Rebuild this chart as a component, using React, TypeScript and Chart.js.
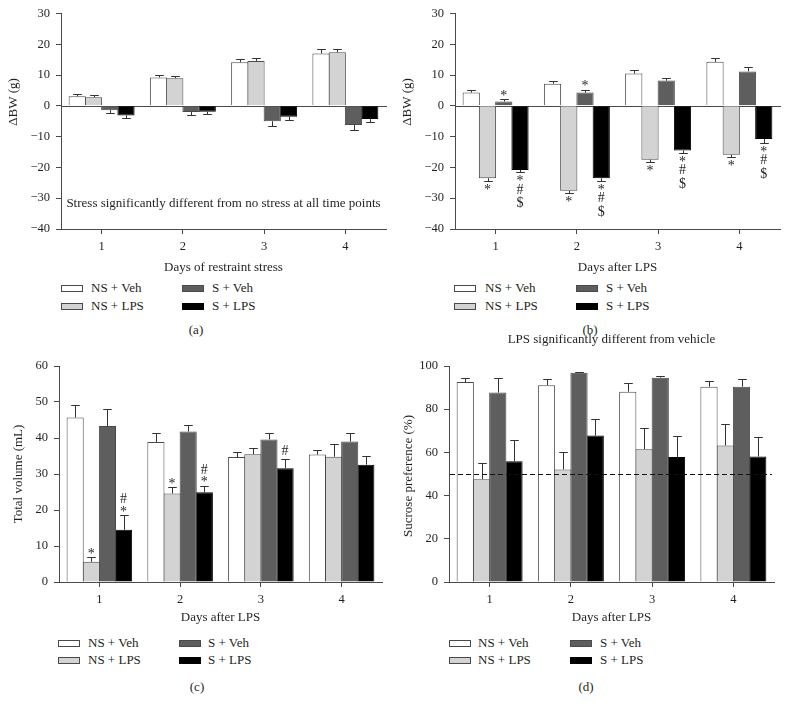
import React, { useEffect, useRef } from 'react';
import { Chart, registerables } from 'chart.js';

Chart.register(...registerables);

// ---------- shared data ----------
const DAYS = ['1', '2', '3', '4'];
const GROUPS = ['NS + Veh', 'NS + LPS', 'S + Veh', 'S + LPS'];
const GROUP_COLORS = ['#ffffff', '#d3d3d3', '#5e5e5e', '#000000'];

// ---------- panel (a): ΔBW during restraint stress ----------
const A_NS_VEH = [3.1, 9.2, 14.2, 17.0];
const A_NS_VEH_ERR = [0.7, 0.7, 1.0, 1.4];
const A_NS_LPS = [2.8, 9.0, 14.6, 17.4];
const A_NS_LPS_ERR = [0.6, 0.7, 0.8, 1.0];
const A_S_VEH = [-1.4, -2.0, -5.0, -6.2];
const A_S_VEH_ERR = [1.0, 1.1, 1.7, 1.8];
const A_S_LPS = [-3.1, -1.9, -3.5, -4.3];
const A_S_LPS_ERR = [1.0, 0.9, 1.1, 1.1];
const A_Y_RANGE = [-40, 30, 10];
const A_MARKS: [number, number, string][] = [];

// ---------- panel (b): ΔBW after LPS ----------
const B_NS_VEH = [4.3, 7.2, 10.5, 14.3];
const B_NS_VEH_ERR = [0.9, 0.8, 1.3, 1.2];
const B_NS_LPS = [-23.5, -27.6, -17.5, -15.9];
const B_NS_LPS_ERR = [0.8, 0.7, 0.8, 0.7];
const B_S_VEH = [1.4, 4.3, 8.2, 11.2];
const B_S_VEH_ERR = [0.7, 1.0, 1.0, 1.3];
const B_S_LPS = [-20.8, -23.5, -14.5, -10.8];
const B_S_LPS_ERR = [0.8, 0.8, 0.8, 1.2];
const B_Y_RANGE = [-40, 30, 10];
// [series, day, symbols (nearest to bar first)]
const B_MARKS: [number, number, string][] = [
  [2, 0, '*'], [2, 1, '*'],
  [1, 0, '*'], [1, 1, '*'], [1, 2, '*'], [1, 3, '*'],
  [3, 0, '*#$'], [3, 1, '*#$'], [3, 2, '*#$'], [3, 3, '*#$'],
];

// ---------- panel (c): total volume ----------
const C_NS_VEH = [45.7, 38.9, 34.7, 35.4];
const C_NS_VEH_ERR = [3.5, 2.5, 1.4, 1.2];
const C_NS_LPS = [5.6, 24.6, 35.5, 34.8];
const C_NS_LPS_ERR = [1.3, 1.7, 1.8, 3.4];
const C_S_VEH = [43.3, 41.8, 39.6, 39.0];
const C_S_VEH_ERR = [4.7, 1.9, 1.8, 2.5];
const C_S_LPS = [14.5, 24.9, 31.6, 32.6];
const C_S_LPS_ERR = [4.1, 1.9, 2.7, 2.5];
const C_Y_RANGE = [0, 60, 10];
const C_MARKS: [number, number, string][] = [
  [1, 0, '*'], [3, 0, '*#'], [1, 1, '*'], [3, 1, '*#'], [3, 2, '#'],
];

// ---------- panel (d): sucrose preference ----------
const D_NS_VEH = [92.6, 91.1, 88.1, 90.4];
const D_NS_VEH_ERR = [1.9, 2.7, 3.9, 2.5];
const D_NS_LPS = [47.6, 52.1, 61.5, 63.2];
const D_NS_LPS_ERR = [7.7, 8.0, 9.8, 10.1];
const D_S_VEH = [87.7, 96.9, 94.6, 90.4];
const D_S_VEH_ERR = [6.6, 0.5, 0.9, 3.7];
const D_S_LPS = [55.9, 67.8, 57.9, 58.1];
const D_S_LPS_ERR = [10.0, 7.7, 9.9, 8.9];
const D_Y_RANGE = [0, 100, 20];
const D_REFERENCE = 50;
const D_MARKS: [number, number, string][] = [];

// ---------- styles ----------
const SERIF = '"Liberation Serif", "Times New Roman", serif';
const TEXT = '#231f20';
const AXIS = '#4a4a4a';
const BAR_EDGE = '#4a4a4a';

Chart.defaults.font.family = SERIF;
Chart.defaults.color = TEXT;

type Box = { left: number; top: number; right: number; bottom: number };
type PanelSpec = {
  canvas: { left: number; top: number; width: number; height: number };
  area: Box;
  series: number[][];
  errors: number[][];
  yRange: number[];
  yTitle: string;
  yTitlePos: [number, number];
  xTitle: string;
  marks: [number, number, string][];
  zeroLine?: boolean;
  refLine?: number;
  note?: { text: string; y: number };
  legend: { swatchX: number[]; textX: number[]; rowY: number[] };
  caption: { text: string; x: number; y: number };
};

const PANELS: PanelSpec[] = [
  {
    canvas: { left: 0, top: 0, width: 394, height: 280 },
    area: { left: 61, top: 13, right: 386, bottom: 229 },
    series: [A_NS_VEH, A_NS_LPS, A_S_VEH, A_S_LPS],
    errors: [A_NS_VEH_ERR, A_NS_LPS_ERR, A_S_VEH_ERR, A_S_LPS_ERR],
    yRange: A_Y_RANGE,
    yTitle: 'ΔBW (g)',
    yTitlePos: [14, 102],
    xTitle: 'Days of restraint stress',
    marks: A_MARKS,
    zeroLine: true,
    note: { text: 'Stress significantly different from no stress at all time points', y: 204 },
    legend: { swatchX: [61, 182], textX: [91, 212], rowY: [288, 306] },
    caption: { text: '(a)', x: 196, y: 330 },
  },
  {
    canvas: { left: 394, top: 0, width: 394, height: 280 },
    area: { left: 455, top: 13, right: 780, bottom: 229 },
    series: [B_NS_VEH, B_NS_LPS, B_S_VEH, B_S_LPS],
    errors: [B_NS_VEH_ERR, B_NS_LPS_ERR, B_S_VEH_ERR, B_S_LPS_ERR],
    yRange: B_Y_RANGE,
    yTitle: 'ΔBW (g)',
    yTitlePos: [408, 102],
    xTitle: 'Days after LPS',
    marks: B_MARKS,
    zeroLine: true,
    legend: { swatchX: [454, 576], textX: [485, 606], rowY: [288, 306] },
    caption: { text: '(b)', x: 590, y: 330 },
  },
  {
    canvas: { left: 0, top: 340, width: 394, height: 290 },
    area: { left: 59, top: 366, right: 382, bottom: 582 },
    series: [C_NS_VEH, C_NS_LPS, C_S_VEH, C_S_LPS],
    errors: [C_NS_VEH_ERR, C_NS_LPS_ERR, C_S_VEH_ERR, C_S_LPS_ERR],
    yRange: C_Y_RANGE,
    yTitle: 'Total volume (mL)',
    yTitlePos: [19, 474],
    xTitle: 'Days after LPS',
    marks: C_MARKS,
    legend: { swatchX: [58, 179], textX: [88, 208], rowY: [643, 660] },
    caption: { text: '(c)', x: 197, y: 687 },
  },
  {
    canvas: { left: 394, top: 320, width: 394, height: 310 },
    area: { left: 449, top: 366, right: 774, bottom: 582 },
    series: [D_NS_VEH, D_NS_LPS, D_S_VEH, D_S_LPS],
    errors: [D_NS_VEH_ERR, D_NS_LPS_ERR, D_S_VEH_ERR, D_S_LPS_ERR],
    yRange: D_Y_RANGE,
    yTitle: 'Sucrose preference (%)',
    yTitlePos: [409, 476],
    xTitle: 'Days after LPS',
    marks: D_MARKS,
    refLine: D_REFERENCE,
    note: { text: 'LPS significantly different from vehicle', y: 340 },
    legend: { swatchX: [449, 570], textX: [478, 600], rowY: [643, 660] },
    caption: { text: '(d)', x: 586, y: 687 },
  },
];

const fmtTick = (v: number | string) => {
  const n = Number(v);
  return n < 0 ? '\u2212' + Math.abs(n) : String(n);
};

function makePlugin(spec: PanelSpec) {
  const cv = spec.canvas;
  return {
    id: 'panelExtras',
    beforeDatasetsDraw(chart: any) {
      const { ctx, chartArea } = chart;
      const y = chart.scales.y;
      if (spec.zeroLine) {
        const py = Math.round(y.getPixelForValue(0)) + 0.5;
        ctx.save();
        ctx.strokeStyle = AXIS;
        ctx.lineWidth = 1;
        ctx.beginPath();
        ctx.moveTo(chartArea.left, py);
        ctx.lineTo(chartArea.right + 1, py);
        ctx.stroke();
        ctx.restore();
      }
    },
    afterDatasetsDraw(chart: any) {
      const { ctx, chartArea } = chart;
      const y = chart.scales.y;
      // error bars
      const ends: number[][] = [];
      chart.data.datasets.forEach((ds: any, di: number) => {
        const meta = chart.getDatasetMeta(di);
        ends[di] = [];
        meta.data.forEach((bar: any, i: number) => {
          const v = ds.data[i];
          const e = ds.errors[i];
          const end = y.getPixelForValue(v < 0 ? v - e : v + e);
          ends[di][i] = end;
          const x = Math.round(bar.x) + 0.5;
          const w = bar.width;
          const ey = Math.round(end) + 0.5;
          ctx.save();
          ctx.strokeStyle = '#333';
          ctx.lineWidth = 1;
          ctx.beginPath();
          ctx.moveTo(x, bar.y);
          ctx.lineTo(x, ey);
          ctx.moveTo(x - w / 4, ey);
          ctx.lineTo(x + w / 4, ey);
          ctx.stroke();
          ctx.restore();
        });
      });
      // significance marks
      ctx.save();
      ctx.font = `14px ${SERIF}`;
      ctx.fillStyle = TEXT;
      ctx.textAlign = 'center';
      ctx.textBaseline = 'alphabetic';
      spec.marks.forEach(([s, d, syms]) => {
        const bar = chart.getDatasetMeta(s).data[d];
        const v = chart.data.datasets[s].data[d];
        const down = v < 0;
        let edge = ends[s][d] + (down ? 3 : -3.5);
        for (const ch of syms.split('')) {
          const m = ctx.measureText(ch);
          const asc = m.actualBoundingBoxAscent;
          const desc = m.actualBoundingBoxDescent;
          if (down) {
            ctx.fillText(ch, bar.x, edge + asc);
            edge = edge + asc + desc + 2.5;
          } else {
            ctx.fillText(ch, bar.x, edge - desc);
            edge = edge - asc - desc - 2.5;
          }
        }
      });
      ctx.restore();
      // reference line
      if (spec.refLine !== undefined) {
        const py = Math.round(y.getPixelForValue(spec.refLine)) + 0.5;
        ctx.save();
        ctx.strokeStyle = '#111';
        ctx.lineWidth = 1;
        ctx.setLineDash([5, 3]);
        ctx.beginPath();
        ctx.moveTo(chartArea.left + 1, py);
        ctx.lineTo(chartArea.right - 2, py);
        ctx.stroke();
        ctx.restore();
      }
    },
    afterDraw(chart: any) {
      const { ctx, chartArea } = chart;
      ctx.save();
      ctx.fillStyle = TEXT;
      ctx.textAlign = 'center';
      ctx.textBaseline = 'middle';
      if (spec.note) {
        ctx.font = `13px ${SERIF}`;
        ctx.fillText(spec.note.text, (chartArea.left + chartArea.right) / 2, spec.note.y - cv.top);
      }
      ctx.font = `13px ${SERIF}`;
      ctx.translate(spec.yTitlePos[0] - cv.left, spec.yTitlePos[1] - cv.top);
      ctx.rotate(-Math.PI / 2);
      ctx.fillText(spec.yTitle, 0, 0);
      ctx.restore();
    },
  };
}

function buildConfig(spec: PanelSpec): any {
  const cv = spec.canvas;
  const a = spec.area;
  const yW = a.left - cv.left;
  const xH = cv.top + cv.height - a.bottom;
  const padTop = a.top - cv.top;
  const padRight = cv.left + cv.width - a.right;
  const [yMin, yMax, yStep] = spec.yRange;
  return {
    type: 'bar',
    data: {
      labels: DAYS,
      datasets: GROUPS.map((g, i) => ({
        label: g,
        data: spec.series[i],
        errors: spec.errors[i],
        backgroundColor: GROUP_COLORS[i],
        borderColor: i === 3 ? '#000' : BAR_EDGE,
        borderWidth: 1,
        categoryPercentage: 0.8,
        barPercentage: 1.06,
      })),
    },
    options: {
      responsive: false,
      maintainAspectRatio: false,
      animation: false,
      devicePixelRatio: 1,
      layout: { padding: { top: padTop, right: padRight, left: 0, bottom: 0 } },
      plugins: {
        legend: { display: false },
        tooltip: { enabled: false },
        title: { display: false },
      },
      scales: {
        x: {
          type: 'category',
          offset: true,
          grid: {
            display: true,
            offset: false,
            drawOnChartArea: false,
            drawTicks: true,
            tickLength: 5,
            tickColor: AXIS,
            color: AXIS,
          },
          border: { display: true, color: AXIS, width: 1 },
          ticks: { font: { size: 12.5, family: SERIF }, color: TEXT, padding: 5, maxRotation: 0 },
          title: {
            display: true,
            text: spec.xTitle,
            font: { size: 13, family: SERIF },
            color: TEXT,
            padding: { top: 0, bottom: 5 },
          },
          afterFit: (s: any) => {
            s.height = xH;
          },
        },
        y: {
          min: yMin,
          max: yMax,
          grid: {
            display: true,
            drawOnChartArea: false,
            drawTicks: true,
            tickLength: 5,
            tickColor: AXIS,
            color: AXIS,
          },
          border: { display: true, color: AXIS, width: 1 },
          ticks: {
            stepSize: yStep,
            font: { size: 12.5, family: SERIF },
            color: TEXT,
            padding: 6,
            callback: fmtTick,
          },
          afterFit: (s: any) => {
            s.width = yW;
          },
        },
      },
    },
    plugins: [makePlugin(spec)],
  };
}

function Panel({ spec }: { spec: PanelSpec }) {
  const ref = useRef<HTMLCanvasElement>(null);
  useEffect(() => {
    const c = ref.current;
    if (!c) return;
    const chart = new Chart(c, buildConfig(spec));
    return () => chart.destroy();
  }, [spec]);
  const cv = spec.canvas;
  const lg = spec.legend;
  return (
    <>
      <canvas
        ref={ref}
        width={cv.width}
        height={cv.height}
        style={{ position: 'absolute', left: cv.left, top: cv.top, width: cv.width, height: cv.height }}
      />
      {GROUPS.map((g, i) => {
        const col = Math.floor(i / 2);
        const row = i % 2;
        return (
          <React.Fragment key={g}>
            <div
              style={{
                position: 'absolute',
                left: lg.swatchX[col],
                top: lg.rowY[row] - 3.5,
                width: 22,
                height: 7,
                boxSizing: 'border-box',
                border: `1px solid ${i === 3 ? '#000' : BAR_EDGE}`,
                background: GROUP_COLORS[i],
              }}
            />
            <div
              style={{
                position: 'absolute',
                left: lg.textX[col],
                top: lg.rowY[row] - 8,
                lineHeight: '16px',
                fontSize: 13,
                whiteSpace: 'nowrap',
              }}
            >
              {g}
            </div>
          </React.Fragment>
        );
      })}
      <div
        style={{
          position: 'absolute',
          left: spec.caption.x,
          top: spec.caption.y - 8,
          transform: 'translateX(-50%)',
          lineHeight: '16px',
          fontSize: 13,
          whiteSpace: 'nowrap',
        }}
      >
        {spec.caption.text}
      </div>
    </>
  );
}

export default function App() {
  return (
    <div
      style={{
        position: 'absolute',
        left: 0,
        top: 0,
        width: 788,
        height: 712,
        background: '#ffffff',
        fontFamily: SERIF,
        color: TEXT,
        overflow: 'hidden',
      }}
    >
      {PANELS.map((p, i) => (
        <Panel key={i} spec={p} />
      ))}
    </div>
  );
}
